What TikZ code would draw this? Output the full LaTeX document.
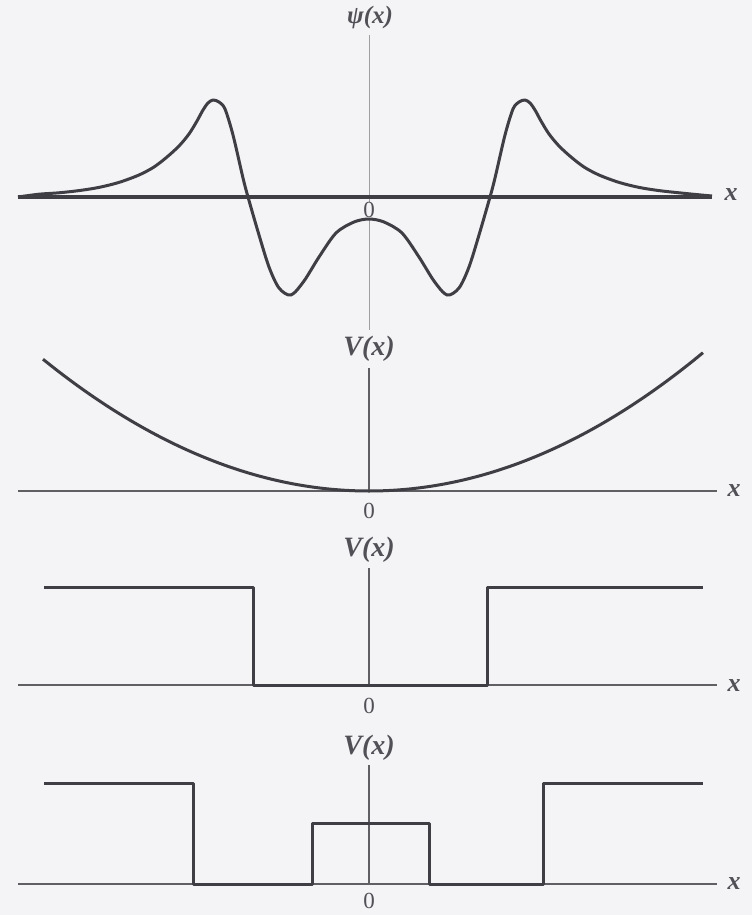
\documentclass[tikz,border=0pt]{standalone}
\usepackage{fontspec}
\setmainfont{Liberation Serif}
\definecolor{ink}{RGB}{62,62,68}
\definecolor{txt}{RGB}{80,80,86}
\definecolor{axisgray}{RGB}{95,95,100}
\definecolor{paper}{RGB}{244,244,246}
\begin{document}
\begin{tikzpicture}[x=1pt,y=-1pt,
  curve/.style={draw=ink,line width=3pt,line join=round},
  xaxis/.style={draw=axisgray,line width=2pt},
  yaxis/.style={draw=axisgray,line width=1.3pt},
  lab/.style={text=txt,font=\fontsize{28}{32}\selectfont\bfseries\itshape,inner sep=0pt},
  psilab/.style={text=txt,font=\fontsize{25}{29}\selectfont\bfseries\itshape,inner sep=0pt},
  zero/.style={text=txt,font=\fontsize{23}{27}\selectfont,inner sep=0pt},
  xlab/.style={text=txt,font=\fontsize{26}{30}\selectfont\bfseries\itshape,inner sep=0pt}]
\fill[paper] (0,0) rectangle (752,915);
\useasboundingbox (0,0) rectangle (752,915);

% ---------- panel 1: psi(x)
\draw[draw=axisgray!60,line width=0.9pt] (369,35) -- (369,330);
\draw[draw=ink,line width=3.6pt] (18,197) -- (712,197);
\node[psilab] (psi) at (370,17) {ψ(x)};
\node[xlab] (x1) at (731,195) {x};
\node[zero,fill=paper,inner sep=0.5pt] (z1) at (369,210) {0};
\begin{scope}[shift={(369,197)},y=1pt]
\draw[curve] plot[smooth,tension=0.5] coordinates {
 (-351,0) (-330,2.8) (-310,4.2) (-290,6.4) (-270,9.6) (-250,14.6) (-230,22)
 (-215,30) (-202,40) (-190,51) (-180,63) (-172,76) (-166,87) (-161,94)
 (-156,97) (-150,95) (-144,88) (-136,62) (-126,19) (-121,0) (-110,-38)
 (-100,-70) (-90,-91) (-78,-98) (-65,-84) (-50,-60) (-33,-36) (-15,-25)
 (0,-22)
 (15,-25) (33,-36) (50,-60) (65,-84) (78,-98) (90,-91) (100,-70) (110,-38)
 (121,0) (126,19) (136,62) (144,88) (150,95) (156,97) (161,94) (166,87)
 (172,76) (180,63) (190,51) (202,40) (215,30) (230,22) (250,14.6) (270,9.6)
 (290,6.4) (310,4.2) (330,2.2) (343,1)};
\end{scope}

% ---------- panel 2: harmonic V(x)
\draw[yaxis] (369,368) -- (369,491);
\draw[xaxis] (18,491) -- (717,491);
\node[lab] (v2) at (369,349) {V(x)};
\node[xlab] (x2) at (734,491) {x};
\node[zero] (z2) at (369,511) {0};
\draw[curve] plot[domain=-3.26:3.34,samples=80,smooth] ({369+100*\x},{491-12.4*\x*\x});

% ---------- panel 3: square well
\draw[yaxis] (369,568) -- (369,685);
\draw[xaxis] (18,685) -- (717,685);
\node[lab] (v3) at (369,550) {V(x)};
\node[xlab] (x3) at (734,686) {x};
\node[zero] (z3) at (369,706) {0};
\draw[curve] (44,587) -- (253,587) -- (253,685) -- (487,685) -- (487,587) -- (703,587);

% ---------- panel 4: well with central barrier
\draw[yaxis] (369,765) -- (369,884);
\draw[xaxis] (18,884) -- (717,884);
\node[lab] (v4) at (369,748) {V(x)};
\node[xlab] (x4) at (734,884) {x};
\node[zero] (z4) at (369,901) {0};
\draw[curve] (44,783) -- (193,783) -- (193,884) -- (312,884) -- (312,823) -- (429,823)
  -- (429,884) -- (543,884) -- (543,783) -- (703,783);
\end{tikzpicture}
\end{document}
